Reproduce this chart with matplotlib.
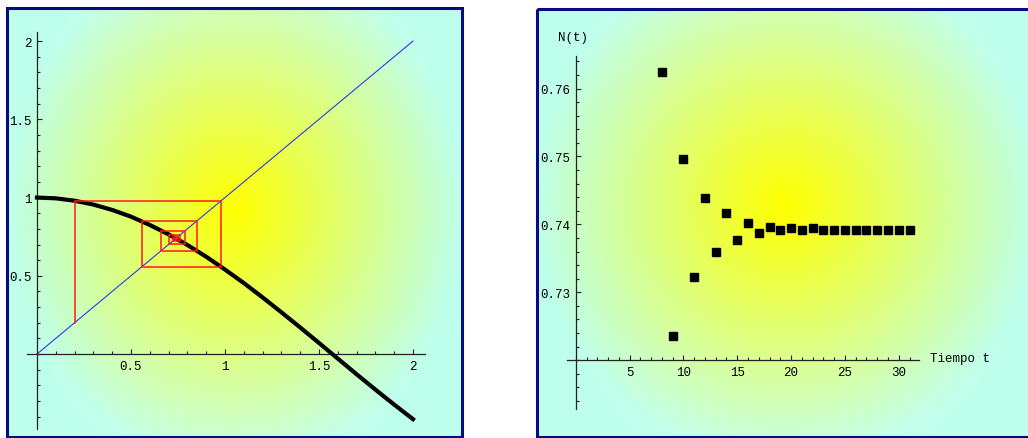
import numpy as np
import matplotlib
matplotlib.use('Agg')
import matplotlib.pyplot as plt
from matplotlib.ticker import MultipleLocator, FixedLocator
from matplotlib.patches import Rectangle

# left panel: cos map, diagonal and cobweb
curve_x = [0.0, 0.1, 0.2, 0.3, 0.4, 0.5, 0.6, 0.7, 0.8, 0.9, 1.0,
           1.1, 1.2, 1.3, 1.4, 1.5, 1.6, 1.7, 1.8, 1.9, 2.0]
curve_y = [1.0, 0.995, 0.980, 0.955, 0.921, 0.878, 0.825, 0.765, 0.697, 0.622, 0.540,
           0.454, 0.362, 0.267, 0.170, 0.071, -0.029, -0.129, -0.227, -0.323, -0.416]
diag_x = [0.0, 2.0]
diag_y = [0.0, 2.0]
iterates = [0.2, 0.980, 0.557, 0.849, 0.661, 0.789, 0.704, 0.762, 0.724,
            0.750, 0.732, 0.744, 0.736, 0.742, 0.738, 0.740]

# right panel: N(t)
t_vals = list(range(8, 32))
n_vals = [0.7624, 0.7235, 0.7497, 0.7322, 0.7439, 0.7360, 0.7416, 0.7377,
          0.7402, 0.7387, 0.7396, 0.7391, 0.7394, 0.7391, 0.7394, 0.7392,
          0.7392, 0.7392, 0.7392, 0.7392, 0.7392, 0.7392, 0.7392, 0.7392]

W, H = 1028, 439
fig = plt.figure(figsize=(W / 100, H / 100), dpi=100)
fig.patch.set_facecolor('white')

# background panels drawn in pixel coordinates
bg = fig.add_axes([0, 0, 1, 1])
bg.set_xlim(0, W)
bg.set_ylim(H, 0)
bg.axis('off')


def gradient(x0, x1, y0, y1, cx, cy):
    xs = np.linspace(x0, x1, 300)
    ys = np.linspace(y0, y1, 300)
    X, Y = np.meshgrid(xs, ys)
    sx = (X - cx) / ((x1 - x0) / 2)
    sy = (Y - cy) / ((y1 - y0) / 2)
    r_red = np.clip(np.sqrt(sx ** 2 + 0.55 * sy ** 2), 0, 1)
    r_blue = np.clip(np.sqrt(sx ** 2 + 0.7 * sy ** 2), 0, 1)
    img = np.zeros(X.shape + (3,))
    img[..., 0] = (255 - 65 * r_red) / 255
    img[..., 1] = 1.0
    img[..., 2] = (235 * r_blue) / 255
    return img


panels = [(7, 462, 9, 438, 235, 210), (537, 1040, 10, 438, 786, 205)]
for x0, x1, y0, y1, cx, cy in panels:
    bg.imshow(gradient(x0, x1, y0, y1, cx, cy), extent=(x0, x1, y1, y0),
              aspect='auto', interpolation='bilinear', zorder=0)
    bg.add_patch(Rectangle((x0, y0), x1 - x0, y1 - y0, fill=False,
                           edgecolor='#0a0a80', lw=2.2, zorder=5))
bg.set_xlim(0, W)
bg.set_ylim(H, 0)

mono = 'Liberation Mono'


def style_axes(ax, x0, y0):
    ax.set_facecolor('none')
    ax.spines['left'].set_position(('data', x0))
    ax.spines['bottom'].set_position(('data', y0))
    ax.spines['right'].set_visible(False)
    ax.spines['top'].set_visible(False)
    for s in ['left', 'bottom']:
        ax.spines[s].set_color('#222222')
        ax.spines[s].set_linewidth(0.9)
    ax.tick_params(which='both', direction='in', colors='#222222', width=0.8,
                   labelsize=9, labelcolor='black')
    ax.tick_params(which='major', length=3.5, pad=4)
    ax.tick_params(which='minor', length=2)
    for lab in ax.get_xticklabels() + ax.get_yticklabels():
        lab.set_fontfamily(mono)


# left chart
ax1 = fig.add_axes([27 / W, 1 - 430 / H, 398 / W, 397 / H])
ax1.set_xlim(-0.053, 2.064)
ax1.set_ylim(-0.479, 2.058)
ax1.plot(diag_x, diag_y, color='#2a3ae8', lw=0.8, zorder=2)
ax1.plot(curve_x, curve_y, color='black', lw=3.0, zorder=3)
cx_path = [iterates[0]]
cy_path = [iterates[0]]
for prev, nxt in zip(iterates[:-1], iterates[1:]):
    cx_path += [prev, nxt]
    cy_path += [nxt, nxt]
ax1.plot(cx_path, cy_path, color='#ff1a1a', lw=1.1, zorder=4)
ax1.xaxis.set_major_locator(FixedLocator([0.5, 1, 1.5, 2]))
ax1.yaxis.set_major_locator(FixedLocator([0.5, 1, 1.5, 2]))
ax1.xaxis.set_minor_locator(MultipleLocator(0.1))
ax1.yaxis.set_minor_locator(MultipleLocator(0.1))
ax1.set_xticklabels(['0.5', '1', '1.5', '2'])
ax1.set_yticklabels(['0.5', '1', '1.5', '2'])
style_axes(ax1, 0, 0)

# right chart
ax2 = fig.add_axes([566.7 / W, 1 - 410 / H, 352.3 / W, 353 / H])
ax2.set_xlim(-0.84, 31.88)
ax2.set_ylim(0.7128, 0.7648)
ax2.plot(t_vals, n_vals, 's', color='black', markersize=5.2, zorder=3)
ax2.xaxis.set_major_locator(FixedLocator([5, 10, 15, 20, 25, 30]))
ax2.yaxis.set_major_locator(FixedLocator([0.73, 0.74, 0.75, 0.76]))
ax2.xaxis.set_minor_locator(MultipleLocator(1))
ax2.yaxis.set_minor_locator(MultipleLocator(0.002))
ax2.set_xticklabels(['5', '10', '15', '20', '25', '30'])
ax2.set_yticklabels(['0.73', '0.74', '0.75', '0.76'])
style_axes(ax2, 0, 0.72)

bg.text(573, 38, 'N(t)', family=mono, fontsize=9, ha='center', va='center')
bg.text(930, 359, 'Tiempo t', family=mono, fontsize=9, ha='left', va='center')

fig.savefig('out.png', dpi=100)
